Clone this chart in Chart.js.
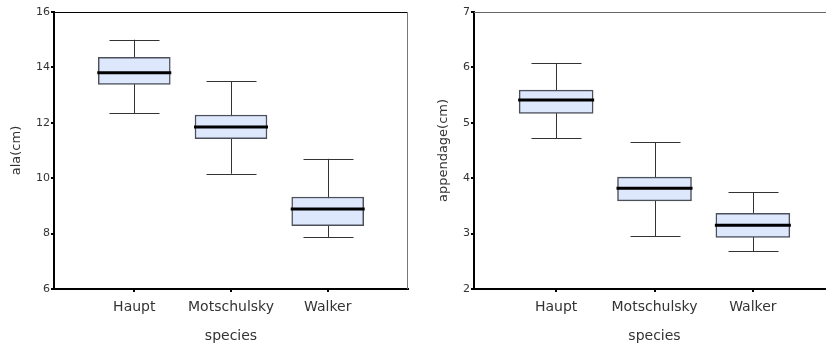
<!DOCTYPE html>
<html>
<head>
<meta charset="utf-8">
<script src="https://cdn.jsdelivr.net/npm/chart.js@4.4.1/dist/chart.umd.min.js"></script>
<style>
  html, body { margin: 0; padding: 0; background: #fff; }
  body { width: 826px; height: 349px; overflow: hidden; position: relative; }
  #leftChart { position: absolute; left: 0; top: 0; }
  #rightChart { position: absolute; left: 420px; top: 0; }
</style>
</head>
<body>
<canvas id="leftChart" width="413" height="349"></canvas>
<canvas id="rightChart" width="420" height="349"></canvas>
<script>
// species on the x axis
const species = ['Haupt', 'Motschulsky', 'Walker'];

// ala(cm): whisker low, Q1, median, Q3, whisker high
const alaLow = [12.35, 10.16, 7.88];
const alaQ1 = [13.39, 11.43, 8.29];
const alaMed = [13.81, 11.85, 8.89];
const alaQ3 = [14.36, 12.28, 9.32];
const alaHigh = [15.0, 13.5, 10.7];

// appendage(cm)
const appLow = [4.72, 2.95, 2.68];
const appQ1 = [5.17, 3.59, 2.93];
const appMed = [5.41, 3.82, 3.15];
const appQ3 = [5.59, 4.02, 3.365];
const appHigh = [6.08, 4.645, 3.75];

// y tick values
const alaTicks = [6, 8, 10, 12, 14, 16];
const appTicks = [2, 3, 4, 5, 6, 7];

Chart.defaults.font.family = "'DejaVu Sans', sans-serif";
Chart.defaults.color = '#333';

// whiskers under the boxes, median on top
const boxPlotPlugin = {
  id: 'boxplot',
  beforeDatasetsDraw(chart, args, opts) {
    const { ctx, scales: { x, y } } = chart;
    ctx.save();
    ctx.strokeStyle = '#333';
    ctx.lineWidth = 1;
    opts.low.forEach((lo, i) => {
      const cx = Math.round(x.getPixelForValue(i + 1)) + 0.5;
      const yLo = y.getPixelForValue(lo);
      const yHi = y.getPixelForValue(opts.high[i]);
      ctx.beginPath();
      ctx.moveTo(cx, yLo);
      ctx.lineTo(cx, yHi);
      ctx.moveTo(cx - opts.cap, Math.round(yLo) + 0.5);
      ctx.lineTo(cx + opts.cap, Math.round(yLo) + 0.5);
      ctx.moveTo(cx - opts.cap, Math.round(yHi) + 0.5);
      ctx.lineTo(cx + opts.cap, Math.round(yHi) + 0.5);
      ctx.stroke();
    });
    ctx.restore();
  },
  afterDatasetsDraw(chart, args, opts) {
    const { ctx, scales: { x, y } } = chart;
    ctx.save();
    ctx.strokeStyle = '#000';
    ctx.lineWidth = 3;
    opts.med.forEach((m, i) => {
      const cx = x.getPixelForValue(i + 1);
      const my = y.getPixelForValue(m);
      ctx.beginPath();
      ctx.moveTo(cx - opts.half, my);
      ctx.lineTo(cx + opts.half, my);
      ctx.stroke();
    });
    // frame: top and right edges
    const a = chart.chartArea;
    ctx.lineWidth = 1;
    ctx.strokeStyle = opts.topColor;
    ctx.beginPath();
    ctx.moveTo(a.left, a.top + 0.5);
    ctx.lineTo(a.right, a.top + 0.5);
    ctx.stroke();
    ctx.strokeStyle = '#777';
    ctx.beginPath();
    ctx.moveTo(a.right - 0.5, a.top);
    ctx.lineTo(a.right - 0.5, a.bottom);
    ctx.stroke();
    ctx.restore();
  }
};

function makeBoxChart(id, cfg) {
  return new Chart(document.getElementById(id), {
    type: 'bar',
    data: {
      datasets: [{
        data: cfg.q1.map((q, i) => ({ x: i + 1, y: [q, cfg.q3[i]] })),
        backgroundColor: '#dde8fd',
        borderColor: '#4b505a',
        borderWidth: 1.5,
        borderSkipped: false,
        barThickness: cfg.boxWidth
      }]
    },
    plugins: [boxPlotPlugin],
    options: {
      responsive: false,
      animation: false,
      layout: { padding: { top: 12, right: cfg.padRight, left: 0, bottom: 0 } },
      plugins: {
        legend: { display: false },
        tooltip: { enabled: false },
        boxplot: {
          low: cfg.low, high: cfg.high, med: cfg.med,
          cap: 25, half: cfg.boxWidth / 2 + 1,
          topColor: cfg.topColor
        }
      },
      scales: {
        x: {
          type: 'linear',
          min: cfg.xMin,
          max: cfg.xMax,
          offset: false,
          afterBuildTicks: s => { s.ticks = species.map((c, i) => ({ value: i + 1 })); },
          afterFit: s => { s.height = 60; },
          ticks: {
            callback: v => species[v - 1],
            padding: 7,
            color: '#333',
            font: { size: 14 }
          },
          grid: { offset: false, drawOnChartArea: false, tickLength: 3, color: '#000', lineWidth: 2 },
          border: { color: '#000', width: 2 },
          title: {
            display: true,
            text: 'species',
            color: '#333',
            font: { size: 14 },
            padding: { top: 0, bottom: 4 }
          }
        },
        y: {
          min: cfg.ticks[0],
          max: cfg.ticks[cfg.ticks.length - 1],
          afterBuildTicks: s => { s.ticks = cfg.ticks.map(v => ({ value: v })); },
          afterFit: s => { s.width = cfg.yWidth; },
          ticks: { padding: 1, color: '#333', font: { size: 11 } },
          grid: { drawOnChartArea: false, tickLength: 3, color: '#000', lineWidth: 2 },
          border: { color: '#000', width: 2 },
          title: {
            display: true,
            text: cfg.yTitle,
            color: '#333',
            font: { size: 13 },
            padding: { top: cfg.titlePad, bottom: 0 }
          }
        }
      }
    }
  });
}

makeBoxChart('leftChart', {
  q1: alaQ1, q3: alaQ3, low: alaLow, high: alaHigh, med: alaMed,
  ticks: alaTicks, yTitle: 'ala(cm)',
  boxWidth: 72, xMin: 0.17, xMax: 3.83,
  yWidth: 54, padRight: 5, titlePad: 9, topColor: '#000'
});

makeBoxChart('rightChart', {
  q1: appQ1, q3: appQ3, low: appLow, high: appHigh, med: appMed,
  ticks: appTicks, yTitle: 'appendage(cm)',
  boxWidth: 74, xMin: 0.165, xMax: 3.835,
  yWidth: 54, padRight: 5, titlePad: 16, topColor: '#666'
});
</script>
</body>
</html>
